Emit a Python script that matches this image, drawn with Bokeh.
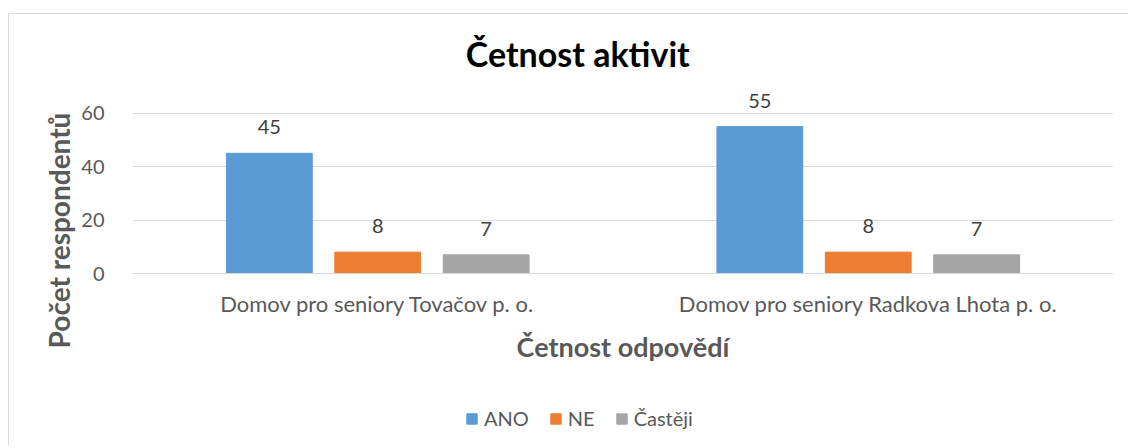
from bokeh.plotting import figure
from bokeh.models import (FactorRange, Range1d, FixedTicker, Legend, LegendItem,
                          Label, ColumnDataSource)
from bokeh.transform import dodge
from bokeh.embed import file_html
from bokeh.resources import INLINE
from bokeh.core.properties import value

# ---- data ----
categories = ["Domov pro seniory Tovačov p. o.", "Domov pro seniory Radkova Lhota p. o."]
series = ["ANO", "NE", "Častěji"]
ano = [45, 55]
ne = [8, 8]
casteji = [7, 7]
y_ticks = [0, 20, 40, 60]
title_text = "Četnost aktivit"
x_title = "Četnost odpovědí"
y_title = "Počet respondentů"

colors = ["#5B9BD5", "#ED7D31", "#A5A5A5"]
FONT = "Lato"
GREY_TXT = "#595959"

# the frame spans the full chart height so that title, axis title and legend
# (which lie above and below the bars) are drawn inside it
p = figure(x_range=FactorRange(*categories), y_range=Range1d(-64.77, 96.97),
           width=1120, height=432, output_backend="svg", toolbar_location=None,
           min_border_left=123, min_border_right=16, min_border_top=0,
           min_border_bottom=0)
p.styles = {"border-top": "1px solid #d9d9d9", "border-left": "1px solid #d9d9d9",
            "margin-top": "13px", "margin-left": "8px"}
p.title.visible = False
p.outline_line_color = None
p.background_fill_color = "white"
p.border_fill_color = "white"

src = ColumnDataSource(dict(
    cat=categories,
    ANO=ano, NE=ne, CAS=casteji,
    ANO_t=[str(v) for v in ano], NE_t=[str(v) for v in ne], CAS_t=[str(v) for v in casteji],
))

keys = ["ANO", "NE", "CAS"]
offsets = [-0.221, 0.0, 0.221]
items = []
for key, name, color, off in zip(keys, series, colors, offsets):
    r = p.vbar(x=dodge("cat", off, range=p.x_range), top=key, bottom=0, width=0.175,
               source=src, fill_color=color, line_color=color)
    p.text(x=dodge("cat", off, range=p.x_range), y=key, text=key + "_t", source=src,
           text_align="center", text_baseline="alphabetic", y_offset=-26,
           text_font=value(FONT), text_font_size="20px", text_color="#404040")
    items.append(LegendItem(label=name, renderers=[r]))

# y axis
p.yaxis.ticker = FixedTicker(ticks=y_ticks)
p.ygrid.ticker = FixedTicker(ticks=y_ticks)
p.ygrid.grid_line_color = "#d9d9d9"
p.xgrid.grid_line_color = None
p.yaxis.axis_line_color = None
p.yaxis.major_tick_line_color = None
p.yaxis.minor_tick_line_color = None
p.yaxis.major_label_text_font = FONT
p.yaxis.major_label_text_font_size = "20px"
p.yaxis.major_label_text_color = GREY_TXT
p.yaxis.major_label_standoff = 22
p.yaxis.axis_label = y_title
p.yaxis.axis_label_text_font = FONT
p.yaxis.axis_label_text_font_style = "bold"
p.yaxis.axis_label_text_font_size = "28px"
p.yaxis.axis_label_text_color = GREY_TXT
p.yaxis.axis_label_standoff = 2

# x axis, fixed at y = 0
p.xaxis.fixed_location = 0
p.xaxis.axis_line_color = "#d9d9d9"
p.xaxis.major_tick_line_color = None
p.xaxis.minor_tick_line_color = None
p.xaxis.major_label_text_font = FONT
p.xaxis.major_label_text_font_size = "22px"
p.xaxis.major_label_text_color = GREY_TXT
p.xaxis.major_label_standoff = 10
p.xaxis.axis_label = x_title
p.xaxis.axis_label_text_font = FONT
p.xaxis.axis_label_text_font_style = "bold"
p.xaxis.axis_label_text_font_size = "27px"
p.xaxis.axis_label_text_color = GREY_TXT
p.xaxis.axis_label_standoff = 10

# chart title (x = 0.5 is the centre of the first category)
p.add_layout(Label(x=0.5, x_offset=200, y=82.4, text=title_text,
                   text_align="center", text_baseline="alphabetic",
                   text_font=FONT, text_font_size="34px", text_font_style="bold",
                   text_color="black"))

legend = Legend(items=items, orientation="horizontal", location=(333, 16),
                padding=0, margin=0, spacing=20, label_standoff=6,
                glyph_width=13, glyph_height=13, border_line_alpha=0,
                background_fill_alpha=0, label_text_font=FONT,
                label_text_font_size="20px", label_text_color=GREY_TXT)
p.add_layout(legend)

open("out.html", "w").write(file_html(p, INLINE))
